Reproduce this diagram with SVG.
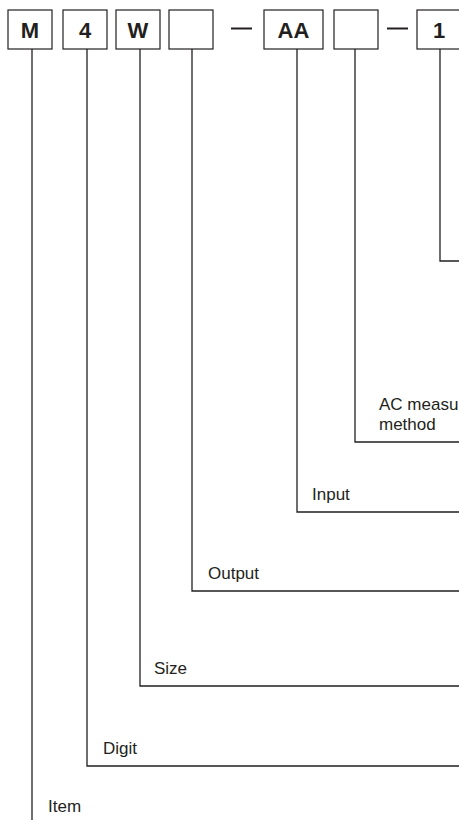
<svg xmlns="http://www.w3.org/2000/svg" width="459" height="820" viewBox="0 0 459 820">
<style>
.box{fill:#fff;stroke:#231f20;stroke-width:1.2}
.code{font-family:"Liberation Sans",Arial,sans-serif;font-weight:bold;font-size:22px;fill:#231f20;text-anchor:middle}
.lbl{font-family:"Liberation Sans",Arial,sans-serif;font-size:17px;fill:#231f20}
.ln{fill:none;stroke:#231f20;stroke-width:1.3}
.dash{stroke:#231f20;stroke-width:2}
</style>
<rect width="459" height="820" fill="#fff"/>
<g id="connectors">
<polyline class="ln" points="32,49 32,820"/>
<polyline class="ln" points="87,49 87,766 460,766"/>
<polyline class="ln" points="140,49 140,686 460,686"/>
<polyline class="ln" points="192,49 192,591 460,591"/>
<polyline class="ln" points="297,49 297,512 460,512"/>
<polyline class="ln" points="355,49 355,442 460,442"/>
<polyline class="ln" points="440,49 440,261 460,261"/>
</g>
<g id="dashes">
<line class="dash" x1="231" y1="28.5" x2="252" y2="28.5"/>
<line class="dash" x1="387" y1="28.5" x2="408" y2="28.5"/>
</g>
<g id="node-M"><rect class="box" x="8" y="10" width="44" height="39"/><text class="code" x="30" y="37.5">M</text></g>
<g id="node-4"><rect class="box" x="63" y="10" width="44" height="39"/><text class="code" x="85" y="37.5">4</text></g>
<g id="node-W"><rect class="box" x="116" y="10" width="44" height="39"/><text class="code" x="138" y="37.5">W</text></g>
<g id="node-blank1"><rect class="box" x="169" y="10" width="44" height="39"/></g>
<g id="node-AA"><rect class="box" x="264" y="10" width="59" height="39"/><text class="code" x="293.5" y="37.5">AA</text></g>
<g id="node-blank2"><rect class="box" x="334" y="10" width="44" height="39"/></g>
<g id="node-1"><rect class="box" x="417" y="10" width="44" height="39"/><text class="code" x="439" y="37.5">1</text></g>
<g id="label-ac"><text class="lbl" x="379" y="410">AC measu</text><text class="lbl" x="379" y="430">method</text></g>
<g id="label-input"><text class="lbl" x="312" y="500">Input</text></g>
<g id="label-output"><text class="lbl" x="208" y="579">Output</text></g>
<g id="label-size"><text class="lbl" x="154" y="674">Size</text></g>
<g id="label-digit"><text class="lbl" x="103" y="754">Digit</text></g>
<g id="label-item"><text class="lbl" x="48" y="812">Item</text></g>
</svg>
